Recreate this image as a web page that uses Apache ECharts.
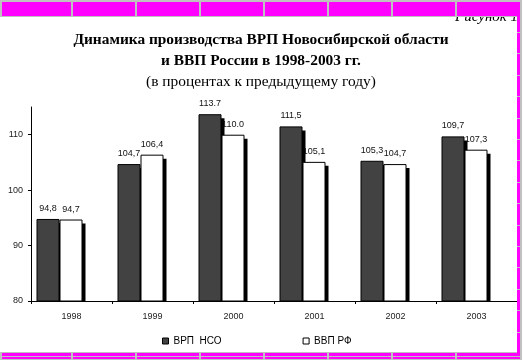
<!DOCTYPE html>
<html><head><meta charset="utf-8">
<script src="https://cdn.jsdelivr.net/npm/echarts@6/dist/echarts.min.js"></script>
<style>html,body{margin:0;padding:0;background:#fff}#c{width:522px;height:360px}</style>
</head><body><div id="c"></div>
<script>
const years = ['1998', '1999', '2000', '2001', '2002', '2003'];
const vrpNso = [94.8, 104.7, 113.7, 111.5, 105.3, 109.7];
const vvpRf = [94.7, 106.4, 110.0, 105.1, 104.7, 107.3];
const vrpNsoLabels = ['94,8', '104,7', '113.7', '111,5', '105,3', '109,7'];
const vvpRfLabels = ['94,7', '106,4', '110.0', '105,1', '104,7', '107,3'];
const yTicks = [80, 90, 100, 110];
const seriesNames = ['ВРП  НСО', 'ВВП РФ'];

const MAG = '#ff00ff', GRAY = '#c0c0c0';
const graphics = [];
graphics.push({type:'text', left:455, top:10, z:1, style:{text:'Рисунок 1', font:'italic 15px "Liberation Serif"', fill:'#000'}});
graphics.push({type:'rect', shape:{x:0,y:0,width:522,height:17}, style:{fill:GRAY}, z:10});
const cols = [[2,71],[73,135],[137,199],[201,263],[265,327],[329,391],[393,455],[457,520]];
cols.forEach(c => {
  graphics.push({type:'rect', shape:{x:c[0],y:2,width:c[1]-c[0],height:14}, style:{fill:MAG}, z:11});
});
graphics.push({type:'rect', shape:{x:520,y:0,width:2,height:360}, style:{fill:GRAY}, z:10});
graphics.push({type:'rect', shape:{x:517,y:16,width:3,height:338}, style:{fill:MAG}, z:11});
for (let y = 32; y < 352; y += 21.4) {
  graphics.push({type:'rect', shape:{x:517,y:Math.round(y),width:3,height:1}, style:{fill:GRAY}, z:12});
}
graphics.push({type:'rect', shape:{x:0,y:352,width:522,height:8}, style:{fill:GRAY}, z:10});
cols.forEach(c => {
  graphics.push({type:'rect', shape:{x:c[0],y:353,width:c[1]-c[0],height:3}, style:{fill:MAG}, z:11});
  graphics.push({type:'rect', shape:{x:c[0],y:357,width:c[1]-c[0],height:2}, style:{fill:MAG}, z:11});
});

const chart = echarts.init(document.getElementById('c'), null, {renderer:'canvas'});
const barLabel = (arr) => ({show:true, position:'top', distance:6, fontFamily:'Liberation Sans', fontSize:9, color:'#111',
  formatter: p => arr[p.dataIndex]});
const shadowStyle = {color:'#000'};
// shadow grid: shifted 3px right, and its value scale shifted so bars sit 4px lower
const SHIFT = 4 / (194 / 35);
chart.setOption({
  animation: false,
  backgroundColor: '#fff',
  title: {
    text: 'Динамика производства ВРП Новосибирской области\nи ВВП России в 1998-2003 гг.',
    subtext: '(в процентах к предыдущему году)',
    left: 'center', top: 30, padding: 0, itemGap: 0,
    textStyle: {fontFamily:'Liberation Serif', fontWeight:'bold', fontSize:15.4, lineHeight:21, color:'#000'},
    subtextStyle: {fontFamily:'Liberation Serif', fontWeight:'normal', fontSize:15.4, lineHeight:19, color:'#000'}
  },
  legend: {
    data: seriesNames, left: 162, top: 336, padding: 0,
    icon: 'rect', itemWidth: 6, itemHeight: 6, itemGap: 81,
    itemStyle: {borderColor:'#000', borderWidth:1},
    textStyle: {fontFamily:'Liberation Sans', fontSize:10, color:'#000'}
  },
  grid: [
    {left: 31, right: 5, top: 107, bottom: 59, containLabel: false},
    {left: 34, right: 2, top: 107, bottom: 59, containLabel: false}
  ],
  xAxis: [{
    type: 'category', data: years, boundaryGap: true, gridIndex: 0, z: 5,
    axisLine: {lineStyle: {color:'#000', width:1}},
    axisTick: {show: true, length: 3, lineStyle:{color:'#000'}},
    axisLabel: {fontFamily:'Liberation Sans', fontSize:9, color:'#222', margin:11}
  }, {
    type: 'category', data: years, boundaryGap: true, gridIndex: 1, show: false
  }],
  yAxis: [{
    type: 'value', min: 80, max: 115, gridIndex: 0, z: 5,
    axisLine: {show: true, lineStyle: {color:'#000', width:1}},
    axisTick: {show: true, length: 3, customValues: yTicks, lineStyle:{color:'#000'}},
    axisLabel: {fontFamily:'Liberation Sans', fontSize:9, color:'#222', margin:8, customValues: yTicks},
    splitLine: {show: false}
  }, {
    type: 'value', min: 80 + SHIFT, max: 115 + SHIFT, gridIndex: 1, show: false, splitLine: {show:false}
  }],
  series: [
    {name: 'shadow1', type:'bar', xAxisIndex:1, yAxisIndex:1, data: vrpNso, barWidth:23, barGap:'0%', z:1,
      itemStyle: shadowStyle, silent:true, emphasis:{disabled:true}},
    {name: 'shadow2', type:'bar', xAxisIndex:1, yAxisIndex:1, data: vvpRf, barWidth:23, barGap:'0%', z:1,
      itemStyle: shadowStyle, silent:true, emphasis:{disabled:true}},
    {name: 'spacer2', type:'bar', xAxisIndex:1, yAxisIndex:1, data: [], barWidth:24, barGap:'0%', silent:true},
    {
      name: seriesNames[0], type: 'bar', data: vrpNso, barWidth: 23, barGap: '0%', z: 2,
      itemStyle: {color:'#424242', borderColor:'#000', borderWidth:1},
      label: barLabel(vrpNsoLabels),
      emphasis: {disabled: true}
    },
    {
      name: seriesNames[1], type: 'bar', data: vvpRf, barWidth: 23, barGap: '0%', z: 2,
      itemStyle: {color:'#fff', borderColor:'#000', borderWidth:1},
      label: barLabel(vvpRfLabels),
      emphasis: {disabled: true}
    },
    {name: 'spacer', type: 'bar', data: [], barWidth: 24, barGap: '0%', silent: true}
  ],
  graphic: graphics
});
</script></body></html>
